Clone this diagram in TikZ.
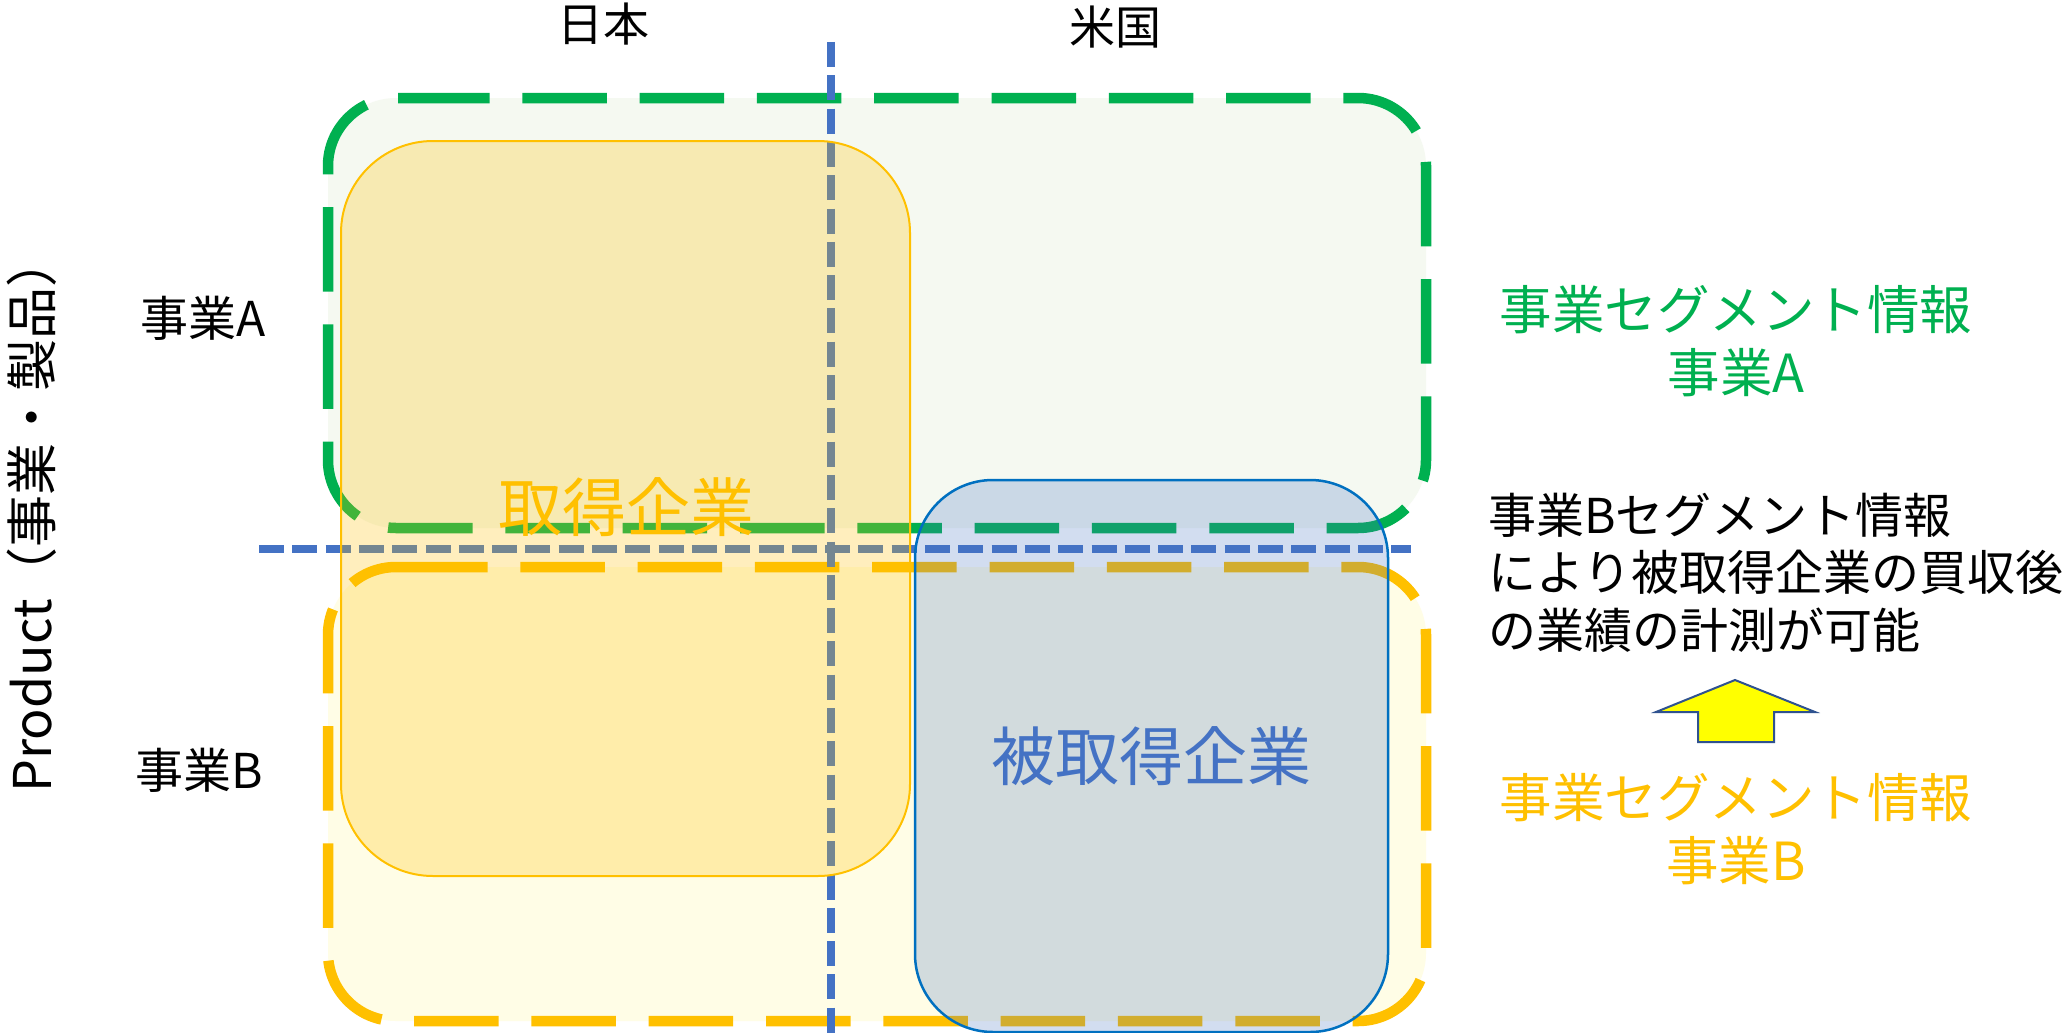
\documentclass[tikz,border=0pt]{standalone}
\usepackage{fontspec}
\setmainfont{Noto Sans CJK JP}
\definecolor{cgreen}{RGB}{0,176,80}
\definecolor{cgreenfill}{RGB}{245,249,241}
\definecolor{cyellow}{RGB}{255,192,0}
\definecolor{cyellowfill}{RGB}{255,253,230}
\definecolor{cblue}{RGB}{68,114,196}
\definecolor{cbluestroke}{RGB}{0,112,192}
\definecolor{carrowedge}{RGB}{47,82,143}
\definecolor{carrowfill}{RGB}{255,255,0}
\begin{document}
\begin{tikzpicture}[x=1pt,y=-1pt,
  every node/.style={inner sep=0pt,outer sep=0pt},
  segbox/.style={line width=10.5pt,dash pattern=on 84.5pt off 32.8pt,rounded corners=68pt},
  gbox/.style={segbox,draw=cgreen,fill=cgreenfill},
  ybox/.style={segbox,draw=cyellow,fill=cyellowfill},
  axisline/.style={draw=cblue,line width=8pt,dash pattern=on 25pt off 8.3pt},
  acqbox/.style={draw=cyellow,line width=2pt,fill=cyellow,fill opacity=0.26,rounded corners=92pt},
  tgtbox/.style={draw=cbluestroke,line width=2.5pt,fill=cblue,fill opacity=0.24,rounded corners=78pt},
  blockarrow/.style={draw=carrowedge,line width=2pt,fill=carrowfill,line join=miter},
  axislbl/.style={font=\fontsize{46}{55}\selectfont},
  rowlbl/.style={font=\fontsize{48}{58}\selectfont},
  sidelbl/.style={font=\fontsize{52.5}{63}\selectfont,align=center},
  notelbl/.style={font=\fontsize{48}{57.5}\selectfont,align=left,anchor=west},
  firmlbl/.style={font=\fontsize{64}{70}\selectfont}
]
\useasboundingbox (0,0) rectangle (2066,1033);
\fill[white] (0,0) rectangle (2066,1033);

% segment areas (start mid-edge so every corner is rounded)
\path[gbox] (405,98) -- (1426,98) -- (1426,528) -- (328,528) -- (328,98) -- (405,98);
\path[ybox] (403,567) -- (1426,567) -- (1426,1021) -- (328,1021) -- (328,567) -- (403,567);

% axis lines
\coordinate (vtop) at (831,42);
\coordinate (vbot) at (831,1033);
\coordinate (hleft) at (259,549);
\coordinate (hright) at (1411,549);
\draw[axisline] (vtop) -- (vbot);
\draw[axisline] (hleft) -- (hright);

% companies
\path[acqbox] (341,141) rectangle (910,876);
\path[tgtbox] (915,480) rectangle (1388,1032);

% block arrow
\path[blockarrow] (1735,680) -- (1815,712) -- (1774,712) -- (1774,742) -- (1698,742) -- (1698,712) -- (1656,712) -- cycle;

% labels
\node[axislbl] (jp) at (603,24) {日本};
\node[axislbl] (us) at (1115,27) {米国};
\node[rowlbl] (rowA) at (203,318) {事業A};
\node[rowlbl] (rowB) at (199,770) {事業B};
\node[font=\fontsize{52}{60}\selectfont,rotate=90] (prod) at (32,514) {Product（事業・製品）};
\node[firmlbl,text=cyellow] (acq) at (626,507) {取得企業};
\node[firmlbl,text=cblue] (tgt) at (1151,756) {被取得企業};
\node[sidelbl,text=cgreen] (segA) at (1736,341.5) {事業セグメント情報\\事業A};
\node[notelbl] (note) at (1488,572.5) {事業Bセグメント情報\\により被取得企業の買収後\\の業績の計測が可能};
\node[sidelbl,text=cyellow] (segB) at (1736,829) {事業セグメント情報\\事業B};
\end{tikzpicture}
\end{document}
